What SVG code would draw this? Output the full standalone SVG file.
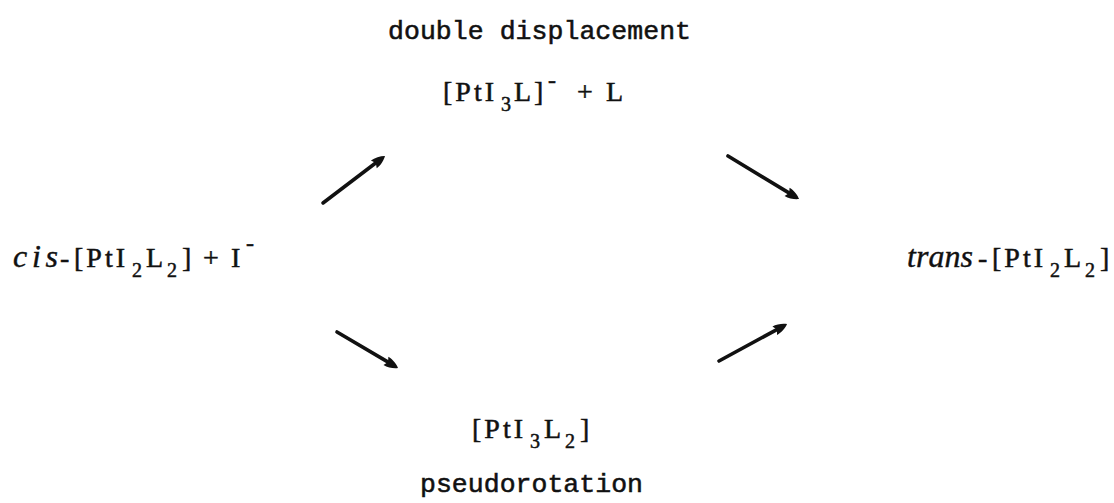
<svg xmlns="http://www.w3.org/2000/svg" width="1114" height="503" viewBox="0 0 1114 503">
<style>
text{fill:#111;white-space:pre}
.lab{font-family:"Liberation Mono","Courier New",monospace;font-size:26.5px;stroke:#111;stroke-width:0.55}
.f{font-family:"Liberation Serif","Times New Roman",serif;font-size:28px;letter-spacing:3px;stroke:#111;stroke-width:0.5}
.s{font-size:20px;letter-spacing:0}
.sup{font-size:24px;letter-spacing:0}
.it{font-family:"Liberation Serif","Times New Roman",serif;font-style:italic;font-size:32px;stroke:#111;stroke-width:0.4}
.arrow{stroke:#111;stroke-width:3.6;fill:none;stroke-linecap:round;marker-end:url(#ah)}
</style>
<defs>
<marker id="ah" viewBox="-15 -6 16 12" refX="-8" refY="0" markerWidth="16" markerHeight="12" markerUnits="userSpaceOnUse" orient="auto">
<path d="M0,0 C-3,-2.5 -9,-5 -14,-4.8 L-11.5,0 L-14,4.8 C-9,5 -3,2.5 0,0 Z" fill="#111"/>
</marker>
</defs>
<g id="label-top">
<text class="lab" x="388" y="39" textLength="303" lengthAdjust="spacing">double displacement</text>
</g>
<g id="node-top">
<text class="f" y="101"><tspan x="443">[PtI</tspan><tspan class="s" x="501" y="111">3</tspan><tspan x="514" y="101">L]</tspan><tspan class="sup" x="548" y="88">-</tspan><tspan x="577" y="101">+</tspan><tspan x="606">L</tspan></text>
</g>
<g id="node-left">
<text class="it" x="13" y="267" textLength="45" lengthAdjust="spacing">cis</text>
<text class="f" y="267"><tspan x="60">-</tspan><tspan x="74">[PtI</tspan><tspan class="s" x="132" y="277">2</tspan><tspan x="146" y="267">L</tspan><tspan class="s" x="167" y="277">2</tspan><tspan x="182" y="267">]</tspan><tspan x="203">+</tspan><tspan x="231">I</tspan><tspan class="sup" x="246" y="251">-</tspan></text>
</g>
<g id="node-right">
<text class="it" x="907" y="267" textLength="66" lengthAdjust="spacing">trans</text>
<text class="f" y="267"><tspan x="978">-</tspan><tspan x="992">[PtI</tspan><tspan class="s" x="1050" y="277">2</tspan><tspan x="1064" y="267">L</tspan><tspan class="s" x="1085" y="277">2</tspan><tspan x="1100" y="267">]</tspan></text>
</g>
<g id="node-bottom">
<text class="f" y="438"><tspan x="472">[PtI</tspan><tspan class="s" x="530" y="448">3</tspan><tspan x="544" y="438">L</tspan><tspan class="s" x="565" y="448">2</tspan><tspan x="580" y="438">]</tspan></text>
</g>
<g id="label-bottom">
<text class="lab" x="420" y="492" textLength="223" lengthAdjust="spacing">pseudorotation</text>
</g>
<g id="connectors">
<line class="arrow" x1="323" y1="203" x2="378.6" y2="160.8"/>
<line class="arrow" x1="728" y1="156" x2="792.2" y2="194.9"/>
<line class="arrow" x1="337" y1="332" x2="391.1" y2="363.9"/>
<line class="arrow" x1="719" y1="361" x2="780" y2="327.8"/>
</g>
</svg>
